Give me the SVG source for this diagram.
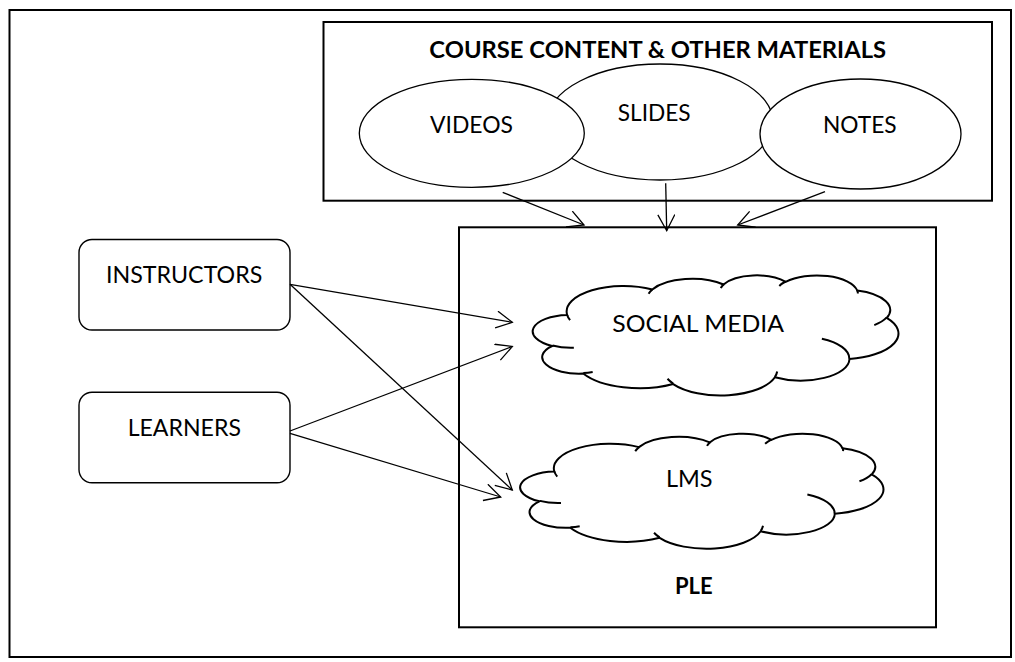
<svg xmlns="http://www.w3.org/2000/svg" xmlns:xlink="http://www.w3.org/1999/xlink" width="1015" height="662" viewBox="0 0 1015 662">
<style>
.frame{fill:none;stroke:#000;stroke-width:2}
.box{fill:#fff;stroke:#000;stroke-width:2}
.ell{fill:#fff;stroke:#000;stroke-width:1.3}
.rbox{fill:#fff;stroke:#000;stroke-width:1.4}
.lbl{font-family:Lato,"Open Sans",sans-serif;font-size:23px;fill:#000;text-anchor:middle}
.bold{font-weight:bold}
.conn line{stroke:#000;stroke-width:1.3;fill:none;marker-end:url(#arr)}
</style>
<defs>
<marker id="arr" markerUnits="userSpaceOnUse" markerWidth="24" markerHeight="24" refX="17" refY="9" orient="auto">
<path d="M1,0.5 L17,9 L1,17.5" fill="none" stroke="#000" stroke-width="1.3"/>
</marker>
<g id="cloudShape">
<path fill="#fff" stroke="#000" stroke-width="2" vector-effect="non-scaling-stroke" d="M3900 14370 A6753 9190 0 0 1 14005.7 5202.5 A5333 7267 0 0 1 22456.1 3432.7 A4365 5945 0 0 1 29833.9 2481.4 A4857 6595 0 0 1 38318.3 5578 A5333 7273 0 0 1 41818.8 15461.8 A6775 9220 0 0 1 37404.2 30203.8 A5785 7867 0 0 1 28555.6 36813.8 A6752 9215 0 0 1 16480 39264.8 A7720 10543 0 0 1 5803.9 35472.4 A4360 5918 0 0 1 2112.7 25550.6 A4345 5945 0 0 1 3900 14370 Z"/>
<path fill="none" stroke="#000" stroke-width="2" vector-effect="non-scaling-stroke" d="M4693 26177 A4345 5945 0 0 1 2160 25380 M6928 34899 A4360 5918 0 0 1 5819 35281 M16478 39090 A6752 9215 0 0 1 15810 37350 M28827 34751 A6752 9215 0 0 1 28560 36660 M34129 22954 A5785 7867 0 0 1 37380 30090 M41798 15354 A5333 7273 0 0 1 40350 18031 M38324 5426 A4857 6595 0 0 1 38400 6690 M29078 3952 A4857 6595 0 0 1 29821 2338 M22141 4720 A4365 5945 0 0 1 22500 3332 M13564 6731 A5333 7267 0 0 1 14006 5203 M4246 16274 A6753 9190 0 0 1 3900 14370"/>
</g>
</defs>
<rect x="0" y="0" width="1015" height="662" fill="#fff"/>
<rect id="page-frame" class="frame" x="9.5" y="10" width="1001.5" height="647"/>

<g id="course-content">
<rect class="box" x="323.5" y="22" width="668.5" height="178.7"/>
<text class="lbl bold" x="657.7" y="58.3" textLength="456.7" lengthAdjust="spacingAndGlyphs">COURSE CONTENT &amp; OTHER MATERIALS</text>
</g>
<g id="slides">
<ellipse class="ell" cx="660" cy="122" rx="113" ry="58"/>
<text class="lbl" x="654.2" y="120.7" textLength="73" lengthAdjust="spacingAndGlyphs">SLIDES</text>
</g>
<g id="videos">
<ellipse class="ell" cx="471.8" cy="133.3" rx="112.5" ry="54"/>
<text class="lbl" x="471.5" y="133" textLength="83" lengthAdjust="spacingAndGlyphs">VIDEOS</text>
</g>
<g id="notes">
<ellipse class="ell" cx="860.5" cy="134" rx="100.5" ry="55"/>
<text class="lbl" x="859.8" y="132.7" textLength="73.7" lengthAdjust="spacingAndGlyphs">NOTES</text>
</g>

<g id="ple">
<rect class="box" x="459" y="227.3" width="477" height="400"/>
<text class="lbl bold" x="693.8" y="594" textLength="37.7" lengthAdjust="spacingAndGlyphs">PLE</text>
</g>
<g id="social-media">
<use xlink:href="#cloudShape" transform="translate(534.3,275) scale(0.0084259,0.0027778)"/>
<text class="lbl" x="698.2" y="331.7" textLength="171.7" lengthAdjust="spacingAndGlyphs">SOCIAL MEDIA</text>
</g>
<g id="lms">
<use xlink:href="#cloudShape" transform="translate(521.7,433.3) scale(0.0083704,0.002662)"/>
<text class="lbl" x="689.3" y="486.7" textLength="46.7" lengthAdjust="spacingAndGlyphs">LMS</text>
</g>

<g id="instructors">
<rect class="rbox" x="79" y="239.5" width="211" height="90.5" rx="13" ry="13"/>
<text class="lbl" x="184.2" y="283.3" textLength="156.3" lengthAdjust="spacingAndGlyphs">INSTRUCTORS</text>
</g>
<g id="learners">
<rect class="rbox" x="79" y="392.3" width="211" height="90.4" rx="13" ry="13"/>
<text class="lbl" x="184.3" y="436" textLength="113.3" lengthAdjust="spacingAndGlyphs">LEARNERS</text>
</g>

<g id="connectors" class="conn">
<line x1="502.7" y1="192.3" x2="584" y2="225"/>
<line x1="665.7" y1="183.3" x2="666.7" y2="230.7"/>
<line x1="825" y1="191.7" x2="737.7" y2="225"/>
<line x1="290" y1="284.3" x2="512.3" y2="322.3"/>
<line x1="290" y1="284.3" x2="512.3" y2="490"/>
<line x1="290" y1="431" x2="512.3" y2="346.5"/>
<line x1="290" y1="433.3" x2="500.7" y2="497"/>
</g>
</svg>
